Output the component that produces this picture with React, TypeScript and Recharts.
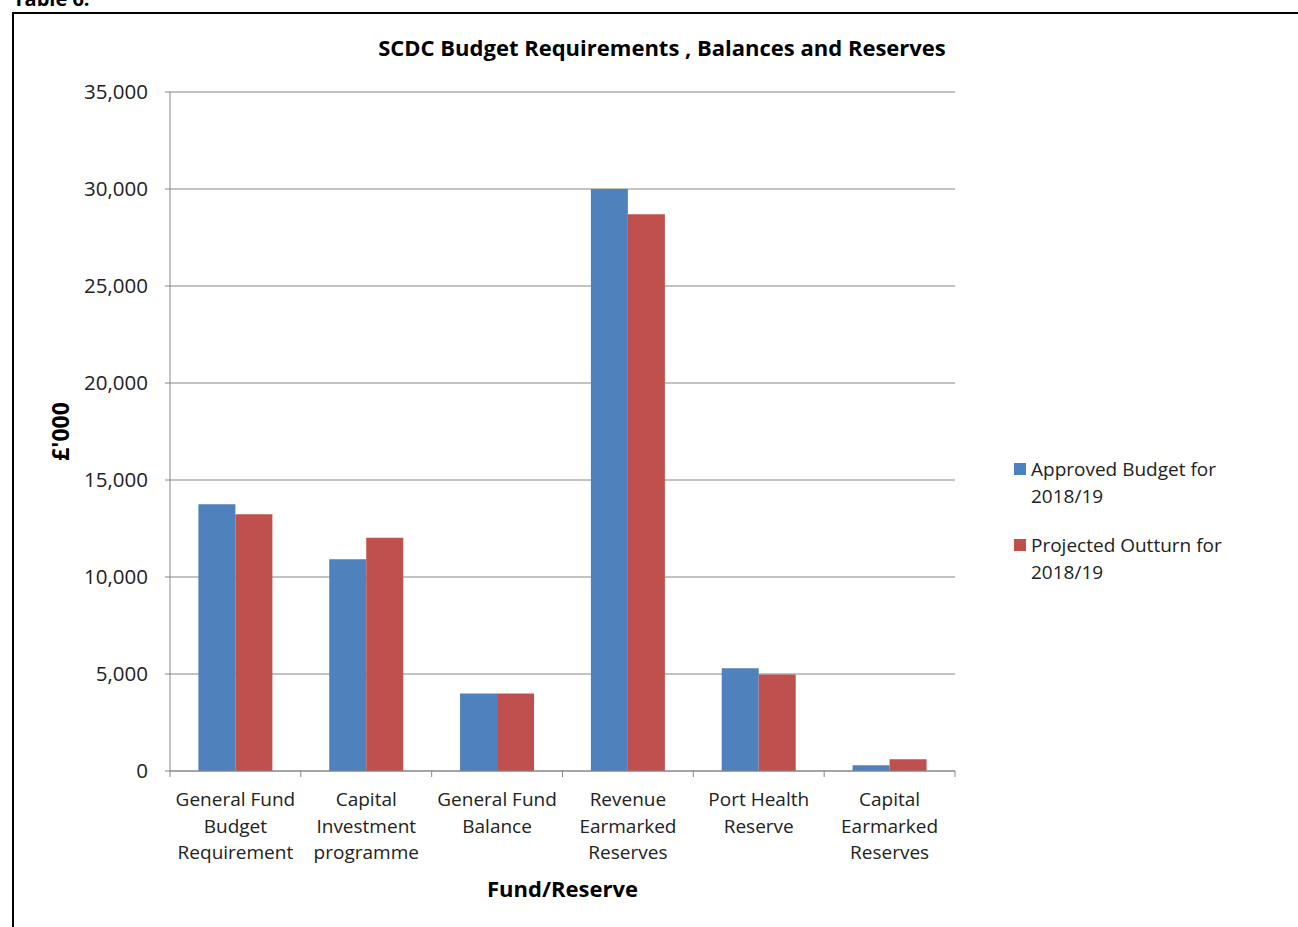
import React from "react";
import { BarChart, Bar, XAxis, YAxis, CartesianGrid, Legend } from "recharts";

const categories = [
  "General Fund Budget Requirement",
  "Capital Investment programme",
  "General Fund Balance",
  "Revenue Earmarked Reserves",
  "Port Health Reserve",
  "Capital Earmarked Reserves",
];
const categoryLines = [
  ["General Fund", "Budget", "Requirement"],
  ["Capital", "Investment", "programme"],
  ["General Fund", "Balance"],
  ["Revenue", "Earmarked", "Reserves"],
  ["Port Health", "Reserve"],
  ["Capital", "Earmarked", "Reserves"],
];
const approvedBudget = [13750, 10910, 4000, 30000, 5300, 300];
const projectedOutturn = [13230, 12020, 4000, 28700, 4980, 610];
const seriesNames = ["Approved Budget for 2018/19", "Projected Outturn for 2018/19"];
const yTicks = [0, 5000, 10000, 15000, 20000, 25000, 30000, 35000];
const title = "SCDC Budget Requirements , Balances and Reserves";
const xTitle = "Fund/Reserve";
const yTitle = "£'000";
const tableLabel = "Table 6.";

const data = categories.map((c, i) => ({
  name: c,
  approved: approvedBudget[i],
  projected: projectedOutturn[i],
}));

const FONT = "'Open Sans', sans-serif";
const AXIS = "#868686";
const BLUE = "#4F81BD";
const RED = "#C0504D";

const XTick = (props: any) => {
  const { x, y, payload, index } = props;
  const half = payload && typeof payload.offset === "number" && payload.offset > 0 ? payload.offset : 785 / 12;
  const lines = categoryLines[index] || [String(payload.value)];
  const last = index === categories.length - 1;
  return (
    <g>
      <line x1={x - half} y1={y} x2={x - half} y2={y + 6} stroke={AXIS} />
      {last && <line x1={x + half} y1={y} x2={x + half} y2={y + 6} stroke={AXIS} />}
      <text x={x} y={y} textAnchor="middle" fontFamily={FONT} fontSize={19} fill="#222">
        {lines.map((l, i) => (
          <tspan key={i} x={x} y={y + 35 + i * 26.5}>
            {l}
          </tspan>
        ))}
      </text>
    </g>
  );
};

const LegendContent = (props: any) => {
  const payload = props.payload || [];
  return (
    <div style={{ fontFamily: FONT, fontSize: 19, lineHeight: "26.5px", color: "#222" }}>
      {payload.map((p: any, i: number) => (
        <div key={i} style={{ position: "relative", paddingLeft: 17, width: 200, marginBottom: i === 0 ? 23 : 0 }}>
          <span
            style={{
              position: "absolute",
              left: 0,
              top: 7,
              width: 12,
              height: 12,
              background: p.color,
            }}
          />
          {p.value}
        </div>
      ))}
    </div>
  );
};

export default function App() {
  return (
    <div
      style={{
        position: "absolute",
        left: 0,
        top: 0,
        width: 1298,
        height: 927,
        overflow: "hidden",
        background: "#fff",
      }}
    >
      <div
        style={{
          position: "absolute",
          left: 13,
          top: -11,
          fontFamily: FONT,
          fontWeight: 700,
          fontSize: 20,
          lineHeight: "20px",
          color: "#000",
        }}
      >
        {tableLabel}
      </div>
      <div
        style={{
          position: "absolute",
          left: 12,
          top: 12,
          width: 1320,
          height: 1000,
          border: "2px solid #000",
        }}
      />
      <div
        style={{
          position: "absolute",
          left: 0,
          top: 32,
          width: 1324,
          textAlign: "center",
          fontFamily: FONT,
          fontWeight: 700,
          fontSize: 22,
          color: "#000",
        }}
      >
        {title}
      </div>
      <div style={{ position: "absolute", left: 0, top: 0 }}>
        <BarChart
          width={1298}
          height={927}
          data={data}
          margin={{ top: 92, right: 343, bottom: 0, left: 0 }}
          barCategoryGap="21.7%"
          barGap={0}
        >
          <CartesianGrid vertical={false} stroke={AXIS} strokeWidth={1} />
          <XAxis
            dataKey="name"
            height={156}
            interval={0}
            tickSize={0}
            tickMargin={0}
            tickLine={false}
            axisLine={{ stroke: AXIS }}
            tick={<XTick />}
            label={{
              content: (p: any) => {
                const vb = p.viewBox || {};
                return (
                  <text
                    x={vb.x + vb.width / 2}
                    y={vb.y + 126}
                    textAnchor="middle"
                    fontFamily={FONT}
                    fontWeight={700}
                    fontSize={22}
                    fill="#000"
                  >
                    {xTitle}
                  </text>
                );
              },
            }}
          />
          <YAxis
            width={170}
            domain={[0, 35000]}
            ticks={yTicks}
            interval={0}
            tickSize={5}
            tickMargin={17}
            tickLine={{ stroke: AXIS }}
            axisLine={{ stroke: AXIS }}
            tickFormatter={(v: number) => v.toLocaleString("en-US")}
            tick={{ fontFamily: FONT, fontSize: 20.5, fill: "#222" }}
            label={{
              content: (p: any) => {
                const vb = p.viewBox || {};
                const cx = 60;
                const cy = vb.y + vb.height / 2;
                return (
                  <text
                    x={cx}
                    y={cy}
                    transform={`rotate(-90, ${cx}, ${cy})`}
                    textAnchor="middle"
                    dominantBaseline="central"
                    fontFamily={FONT}
                    fontWeight={700}
                    fontSize={23}
                    fill="#000"
                  >
                    {yTitle}
                  </text>
                );
              },
            }}
          />
          <Legend
            layout="vertical"
            align="center"
            verticalAlign="middle"
            wrapperStyle={{ left: 1014, top: 456, width: 260, height: "auto" }}
            content={<LegendContent />}
          />
          <Bar dataKey="approved" name={seriesNames[0]} fill={BLUE} isAnimationActive={false} />
          <Bar dataKey="projected" name={seriesNames[1]} fill={RED} isAnimationActive={false} />
        </BarChart>
      </div>
    </div>
  );
}
